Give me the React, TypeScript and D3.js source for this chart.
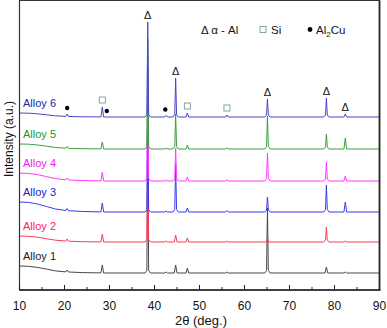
import React from "react";
import * as d3 from "d3";

const W = 387;
const H = 328;

const seriesNames = ["Alloy 1", "Alloy 2", "Alloy 3", "Alloy 4", "Alloy 5", "Alloy 6"];
const seriesOffsets = [17, 48, 78, 109, 141, 173];
const lineColors = ["#484848", "#ff3a5a", "#3a3aee", "#ff3aff", "#3aa03a", "#4646c8"];
const labelColors = ["#222222", "#ff2255", "#2222cc", "#ee22ee", "#229922", "#2222aa"];

type P = [number, number];

const alloy1: P[] = [[10,7],[12,6.7],[14,5.6],[16,3.9],[18,2.1],[20.3,1.1],[20.6,3],[20.9,1],[24,0.4],[28.1,0.1],[28.4,8],[28.7,0],[37.9,0],[38.3,2.5],[38.5,125],[38.7,2.5],[39.1,0],[42.3,0],[42.6,1],[42.9,0],[44.4,0],[44.7,8],[45,0],[47,0],[47.3,5],[47.6,0],[55.8,0],[56.1,1],[56.4,0],[64.5,0],[64.9,2.5],[65.1,65],[65.3,2.5],[65.7,0],[77.9,0],[78.2,6],[78.5,0],[82.1,0],[82.4,1],[82.7,0],[90,0]];
const alloy2: P[] = [[10,6],[12,5.7],[14,4.8],[16,3.3],[18,1.8],[20.3,0.9],[20.6,3],[20.9,0.8],[24,0.3],[28.1,0.1],[28.4,8],[28.7,0],[37.9,0],[38.3,2.5],[38.5,110],[38.7,2.5],[39.1,0],[42.3,0],[42.6,1],[42.9,0],[44.4,0],[44.7,7],[45,0],[47,0],[47.3,4],[47.6,0],[55.8,0],[56.1,1],[56.4,0],[64.8,0],[65.1,4],[65.4,0],[77.6,0],[78,2],[78.2,15],[78.4,2],[78.8,0],[82.1,0],[82.4,1],[82.7,0],[90,0]];
const alloy3: P[] = [[10,10],[12,9.6],[14,8],[16,5.5],[18,3],[20.3,1.5],[20.6,3.5],[20.9,1.3],[24,0.5],[28.1,0.1],[28.4,9],[28.7,0],[37.9,0],[38.3,2.5],[38.5,120],[38.7,2.5],[39.1,0],[42.3,0],[42.6,1],[42.9,0],[44.1,0],[44.5,2.5],[44.7,48],[44.9,2.5],[45.3,0],[47,0],[47.3,4],[47.6,0],[55.8,0],[56.1,1.5],[56.4,0],[64.5,0],[64.9,2],[65.1,15],[65.3,2],[65.7,0],[77.6,0],[78,2.5],[78.2,27],[78.4,2.5],[78.8,0],[82.1,0],[82.4,10],[82.7,0],[90,0]];
const alloy4: P[] = [[10,8],[12,7.6],[14,6.4],[16,4.4],[18,2.4],[20.3,1.2],[20.6,3],[20.9,1],[24,0.4],[28.1,0.1],[28.4,9],[28.7,0],[37.9,0],[38.3,2.5],[38.5,115],[38.7,2.5],[39.1,0],[42.3,0],[42.6,1],[42.9,0],[44.1,0],[44.5,2.5],[44.7,33],[44.9,2.5],[45.3,0],[47,0],[47.3,4],[47.6,0],[55.8,0],[56.1,1],[56.4,0],[64.5,0],[64.9,2.5],[65.1,28],[65.3,2.5],[65.7,0],[77.6,0],[78,2],[78.2,19],[78.4,2],[78.8,0],[82.1,0],[82.4,5],[82.7,0],[90,0]];
const alloy5: P[] = [[10,5],[12,4.8],[14,4],[16,2.8],[18,1.5],[20.3,0.8],[20.6,2.5],[20.9,0.7],[24,0.3],[28.1,0.1],[28.4,7],[28.7,0],[37.9,0],[38.3,2.5],[38.5,110],[38.7,2.5],[39.1,0],[42.3,0],[42.6,1],[42.9,0],[44.1,0],[44.5,2.5],[44.7,35],[44.9,2.5],[45.3,0],[47,0],[47.3,4],[47.6,0],[55.8,0],[56.1,1],[56.4,0],[64.5,0],[64.9,2.5],[65.1,33],[65.3,2.5],[65.7,0],[77.6,0],[78,2],[78.2,15],[78.4,2],[78.8,0],[82.1,0],[82.4,11],[82.7,0],[90,0]];
const alloy6: P[] = [[10,4],[12,3.8],[14,3.2],[16,2.2],[18,1.2],[20.3,0.6],[20.6,3],[20.9,0.5],[24,0.2],[28.1,0.1],[28.4,10],[28.7,0],[37.9,0],[38.3,2.5],[38.5,95],[38.7,2.5],[39.1,0],[42.3,0],[42.6,1.5],[42.9,0],[44.1,0],[44.5,2.5],[44.7,39],[44.9,2.5],[45.3,0],[47,0],[47.3,4],[47.6,0],[55.8,0],[56.1,2],[56.4,0],[64.5,0],[64.9,2],[65.1,18],[65.3,2],[65.7,0],[77.6,0],[78,2],[78.2,19],[78.4,2],[78.8,0],[82.1,0],[82.4,3],[82.7,0],[90,0]];
const seriesData: P[][] = [alloy1, alloy2, alloy3, alloy4, alloy5, alloy6];

const alPeaks = [38.5, 44.7, 65.1, 78.2, 82.4];
const siPeaks = [28.4, 47.3, 56.1];
const al2cuPeaks = [20.6, 29.4, 42.4];

const xTicks = [10, 20, 30, 40, 50, 60, 70, 80, 90];
const xMinorTicks = [15, 25, 35, 45, 55, 65, 75, 85];

const FONT = "'Liberation Sans', Arial, Helvetica, sans-serif";

export default function App() {
  const left = 19.5, right = 379.5, top = 0.5, bottom = 290;
  const x = d3.scaleLinear().domain([10, 90]).range([left, right]);
  const y = d3.scaleLinear().domain([0, 290]).range([bottom, 0]);

  const line = d3.line<P>().x((d) => x(d[0])).y((d) => y(d[1]));

  const top6 = (t: number) => {
    const pts = alloy6.filter((p) => Math.abs(p[0] - t) < 0.5);
    const v = pts.length ? Math.max(...pts.map((p) => p[1])) : 0;
    return y(seriesOffsets[5] + v);
  };

  return (
    <svg width={W} height={H} style={{ position: "absolute", left: 0, top: 0, background: "#fff" }} fontFamily={FONT}>
      <rect x={0} y={0} width={W} height={H} fill="#fff" />
      {seriesData.map((s, i) => (
        <path
          key={i}
          d={line(s.map((p) => [p[0], p[1] + seriesOffsets[i]] as P)) || ""}
          fill="none"
          stroke={lineColors[i]}
          strokeWidth={1}
        />
      ))}
      {seriesNames.map((n, i) => (
        <text key={n} x={23} y={y(seriesOffsets[i] + seriesData[i][0][1]) - 6} fontSize={11} fill={labelColors[i]}>
          {n}
        </text>
      ))}
      {alPeaks.map((t) => (
        <text key={"a" + t} x={x(t)} y={top6(t) - 3} fontSize={11} textAnchor="middle" fill="#111">
          Δ
        </text>
      ))}
      {siPeaks.map((t) => (
        <rect key={"s" + t} x={x(t) - 3} y={top6(t) - 10} width={6} height={6} fill="none" stroke="#7a9a9a" strokeWidth={0.9} />
      ))}
      {al2cuPeaks.map((t) => (
        <circle key={"c" + t} cx={x(t)} cy={top6(t) - 6} r={2.2} fill="#000" />
      ))}
      {/* legend */}
      <text x={201} y={34} fontSize={11.5} fill="#111">Δ α - Al</text>
      <rect x={260} y={26.5} width={6} height={6} fill="none" stroke="#7a9a9a" strokeWidth={0.9} />
      <text x={271} y={34} fontSize={11.5} fill="#111">Si</text>
      <circle cx={310} cy={29.5} r={2.4} fill="#000" />
      <text x={316} y={34} fontSize={11.5} fill="#111">
        Al<tspan fontSize={8} dy={3}>2</tspan><tspan dy={-3}>Cu</tspan>
      </text>
      {/* frame */}
      <rect x={left} y={top} width={right - left} height={bottom - top} fill="none" stroke="#333" strokeWidth={1} />
      <line x1={left} x2={right + 1} y1={bottom} y2={bottom} stroke="#222" strokeWidth={1.6} />
      <line x1={right} x2={right} y1={top} y2={bottom} stroke="#222" strokeWidth={1.8} />
      <line x1={left} x2={left} y1={top} y2={bottom} stroke="#333" strokeWidth={1.2} />
      {xTicks.map((t) => (
        <g key={t}>
          <line x1={x(t)} x2={x(t)} y1={bottom} y2={bottom - 5} stroke="#222" strokeWidth={1} />
          <text x={x(t)} y={309.5} fontSize={12} textAnchor="middle" fill="#111">{t}</text>
        </g>
      ))}
      {xMinorTicks.map((t) => (
        <line key={t} x1={x(t)} x2={x(t)} y1={bottom} y2={bottom - 3} stroke="#222" strokeWidth={1} />
      ))}
      <text x={201} y={324.5} fontSize={13} textAnchor="middle" fill="#111">2θ (deg.)</text>
      <text transform="translate(12.5,139) rotate(-90)" fontSize={12} textAnchor="middle" fill="#111">Intensity (a.u.)</text>
    </svg>
  );
}
